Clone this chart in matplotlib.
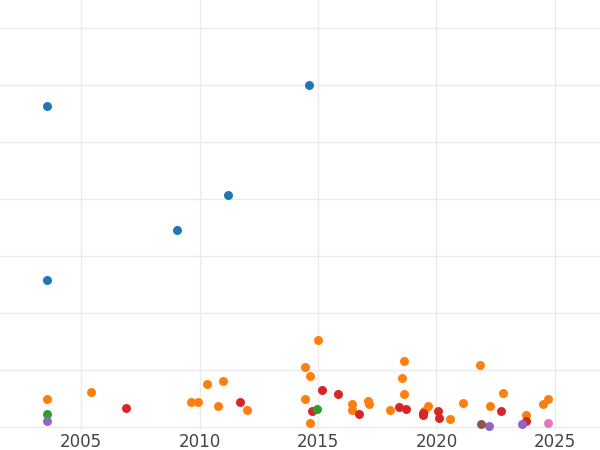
import matplotlib
matplotlib.use("Agg")
import matplotlib.pyplot as plt

blue_x=[2003.56,2014.62,2011.2,2009.05,2003.56]
blue_y=[5.63,6.0,4.07,3.46,2.58]
orange_x=[2003.56,2005.42,2015.0,2014.45,2014.66,2018.63,2018.54,2021.83,2010.31,2010.99,2009.64,2009.93,2010.78,2012.0,2014.45,2014.66,2016.43,2016.43,2017.11,2017.15,2018.04,2018.63,2019.64,2019.47,2020.57,2021.12,2022.25,2022.8,2023.77,2024.49,2024.7]
orange_y=[0.49,0.61,1.53,1.05,0.89,1.16,0.86,1.09,0.75,0.81,0.44,0.44,0.37,0.30,0.49,0.07,0.40,0.30,0.46,0.40,0.30,0.58,0.37,0.28,0.14,0.42,0.37,0.60,0.21,0.40,0.49]
red_x=[2006.9,2011.7,2015.17,2015.84,2014.75,2016.73,2018.42,2018.71,2019.43,2019.43,2020.06,2020.1,2022.72,2023.77]
red_y=[0.33,0.44,0.65,0.58,0.28,0.23,0.35,0.32,0.25,0.21,0.28,0.16,0.28,0.11]
green_x=[2003.56,2014.96]; green_y=[0.23,0.32]
purple_x=[2003.56,2022.21,2023.6]; purple_y=[0.11,0.02,0.05]
brown_x=[2021.88]; brown_y=[0.05]
pink_x=[2024.7]; pink_y=[0.07]

fig=plt.figure(figsize=(6,4.5),dpi=100)
ax=fig.add_axes([0,0.045,1,0.955])
for xs,ys,c in [(blue_x,blue_y,'#1f77b4'),(orange_x,orange_y,'#ff7f0e'),(red_x,red_y,'#d62728'),
                (green_x,green_y,'#2ca02c'),(purple_x,purple_y,'#9467bd'),(brown_x,brown_y,'#8c564b'),(pink_x,pink_y,'#e377c2')]:
    ax.scatter(xs,ys,s=42,color=c,zorder=3,linewidths=0)
ax.set_xlim(2001.58,2026.9)
ax.set_ylim(-0.05,7.49)
ax.set_xticks([2005,2010,2015,2020,2025])
ax.set_yticks(range(0,8))
ax.set_yticklabels([])
ax.grid(True,color='#ebebeb',lw=1)
ax.set_axisbelow(True)
for s in ax.spines.values(): s.set_visible(False)
ax.tick_params(length=0,labelsize=12,labelcolor='#444444',pad=2)
fig.savefig("out.png")
